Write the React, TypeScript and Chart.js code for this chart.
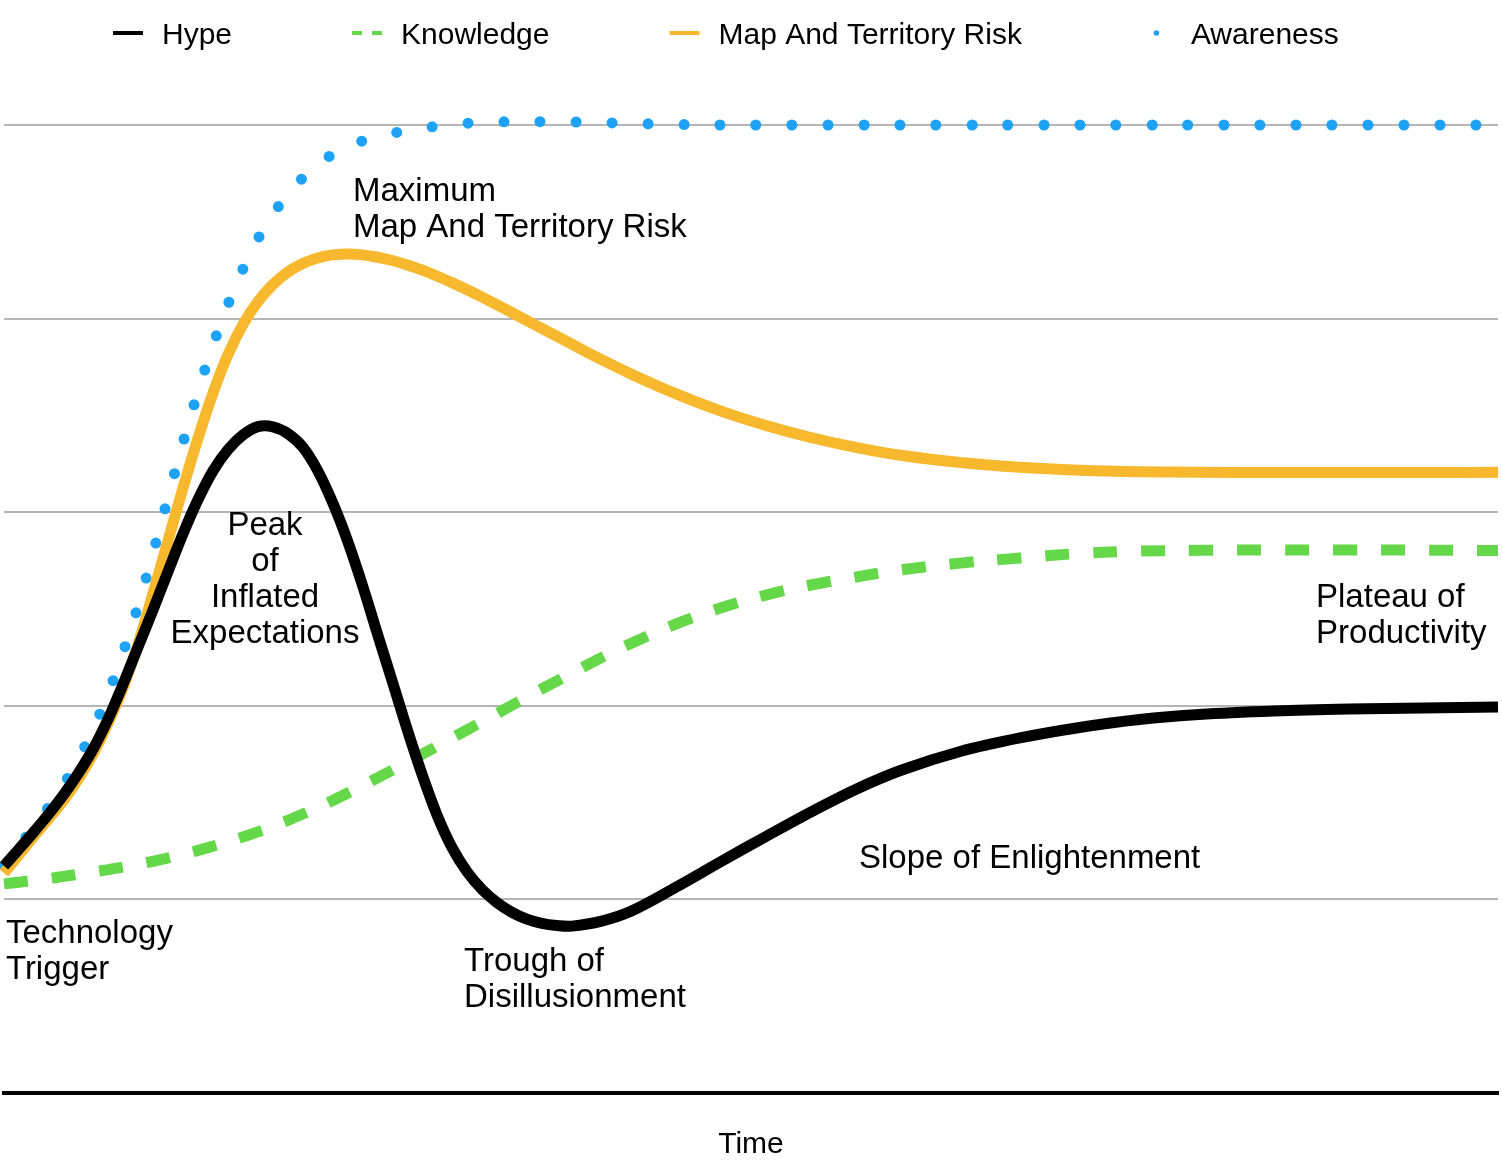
import React, { useEffect, useRef } from 'react';
import { Chart, registerables } from 'chart.js';

Chart.register(...registerables);

const FONT = "'Liberation Sans', Arial, Helvetica, sans-serif";

// Time axis (arbitrary units 0..100)
const times = [0, 1, 2, 3, 4, 5, 6, 7, 8, 9, 10, 11, 12, 13, 14, 15, 16, 17, 18, 19, 20, 21, 22, 23, 24, 25, 26, 27, 28, 29, 30, 31, 32, 33, 34, 35, 36, 37, 38, 40, 42, 45, 48, 51, 54, 57, 60, 64, 68, 72, 76, 80, 85, 90, 95, 100];

const hypeValues = [1.173, 1.260, 1.349, 1.442, 1.542, 1.654, 1.782, 1.937, 2.117, 2.309, 2.500, 2.698, 2.892, 3.067, 3.215, 3.324, 3.399, 3.442, 3.441, 3.406, 3.336, 3.214, 3.049, 2.851, 2.621, 2.370, 2.124, 1.875, 1.642, 1.433, 1.266, 1.142, 1.051, 0.983, 0.933, 0.898, 0.876, 0.865, 0.862, 0.888, 0.940, 1.064, 1.196, 1.325, 1.451, 1.568, 1.666, 1.764, 1.834, 1.888, 1.929, 1.955, 1.973, 1.983, 1.988, 1.994];

const knowledgeValues = [1.080, 1.089, 1.098, 1.108, 1.119, 1.130, 1.142, 1.154, 1.167, 1.182, 1.197, 1.214, 1.233, 1.253, 1.275, 1.298, 1.323, 1.349, 1.378, 1.408, 1.441, 1.475, 1.511, 1.549, 1.588, 1.628, 1.668, 1.709, 1.750, 1.792, 1.834, 1.876, 1.918, 1.960, 2.003, 2.045, 2.087, 2.128, 2.169, 2.249, 2.323, 2.423, 2.506, 2.572, 2.624, 2.665, 2.702, 2.737, 2.763, 2.787, 2.799, 2.803, 2.805, 2.805, 2.804, 2.802];

const riskValues = [1.136, 1.230, 1.326, 1.418, 1.512, 1.625, 1.757, 1.916, 2.100, 2.325, 2.588, 2.859, 3.130, 3.386, 3.618, 3.815, 3.970, 4.088, 4.176, 4.241, 4.285, 4.313, 4.329, 4.334, 4.329, 4.317, 4.300, 4.277, 4.250, 4.219, 4.185, 4.149, 4.111, 4.071, 4.031, 3.990, 3.949, 3.909, 3.868, 3.788, 3.713, 3.611, 3.522, 3.448, 3.386, 3.335, 3.294, 3.257, 3.232, 3.217, 3.209, 3.206, 3.205, 3.205, 3.205, 3.206];

const awarenessValues = [1.173, 1.274, 1.376, 1.479, 1.594, 1.728, 1.885, 2.069, 2.282, 2.523, 2.795, 3.081, 3.364, 3.626, 3.865, 4.074, 4.257, 4.412, 4.539, 4.642, 4.727, 4.797, 4.849, 4.890, 4.918, 4.940, 4.957, 4.972, 4.984, 4.994, 5.003, 5.009, 5.013, 5.016, 5.017, 5.017, 5.017, 5.017, 5.016, 5.012, 5.008, 5.003, 5.0, 5.0, 5.0, 5.0, 5.0, 5.0, 5.0, 5.0, 5.0, 5.0, 5.0, 5.0, 5.0, 5.0];

const seriesLabels = ['Hype', 'Knowledge', 'Map And Territory Risk', 'Awareness'];

// Phase annotations, anchored at (time, value) of the first line's baseline
const phaseLabels = [
  { lines: ['Maximum', 'Map And Territory Risk'], x: 23.36, y: 4.61, align: 'left' },
  { lines: ['Peak', 'of', 'Inflated', 'Expectations'], x: 17.47, y: 2.88, align: 'center' },
  { lines: ['Technology', 'Trigger'], x: 0.13, y: 0.775, align: 'left' },
  { lines: ['Trough of', 'Disillusionment'], x: 30.79, y: 0.63, align: 'left' },
  { lines: ['Slope of Enlightenment'], x: 57.23, y: 1.162, align: 'left' },
  { lines: ['Plateau of', 'Productivity'], x: 87.82, y: 2.51, align: 'left' },
];

const toPoints = (vals: number[]) => vals.map((v, i) => ({ x: times[i], y: v }));

const annotationPlugin = {
  id: 'phaseLabels',
  afterDraw(chart: any) {
    const { ctx, scales } = chart;
    ctx.save();
    ctx.font = `33px ${FONT}`;
    ctx.fillStyle = '#000';
    ctx.textBaseline = 'alphabetic';
    phaseLabels.forEach((a) => {
      ctx.textAlign = a.align;
      const px = scales.x.getPixelForValue(a.x);
      const py = scales.y.getPixelForValue(a.y);
      a.lines.forEach((line, i) => ctx.fillText(line, px, py + i * 36));
    });
    ctx.restore();
  },
};

const legendPlugin = {
  id: 'topLegend',
  afterDraw(chart: any) {
    const { ctx } = chart;
    ctx.save();
    ctx.font = `30px ${FONT}`;
    ctx.textBaseline = 'alphabetic';
    ctx.textAlign = 'left';
    const boxW = 29;
    const textOff = 49;
    const gap = 120;
    const y = 33;
    let x = 113;
    chart.data.datasets.forEach((ds: any) => {
      const dash = ds.borderDash || [];
      ctx.strokeStyle = ds.borderColor;
      ctx.fillStyle = ds.borderColor;
      if (dash.length && dash[0] === 0) {
        ctx.beginPath();
        ctx.arc(x + boxW / 2, y, 2.8, 0, Math.PI * 2);
        ctx.fill();
      } else {
        ctx.lineWidth = 4;
        ctx.lineCap = 'butt';
        ctx.setLineDash(dash.length ? [10, 10] : []);
        ctx.beginPath();
        ctx.moveTo(x, y);
        ctx.lineTo(x + boxW + 1, y);
        ctx.stroke();
        ctx.setLineDash([]);
      }
      ctx.fillStyle = '#000';
      ctx.fillText(ds.label, x + textOff, y + 11);
      x += textOff + ctx.measureText(ds.label).width + gap;
    });
    ctx.restore();
  },
};

export default function App() {
  const canvasRef = useRef<HTMLCanvasElement | null>(null);

  useEffect(() => {
    document.body.style.margin = '0';
    const canvas = canvasRef.current;
    if (!canvas) return;
    Chart.defaults.font.family = FONT;
    Chart.defaults.color = '#000';
    const common = {
      pointRadius: 0,
      pointHoverRadius: 0,
      fill: false,
      tension: 0.35,
      clip: false as const,
      borderWidth: 11,
    };
    const chart = new Chart(canvas, {
      type: 'line',
      data: {
        datasets: [
          { ...common, label: seriesLabels[0], data: toPoints(hypeValues), borderColor: '#000000' },
          { ...common, label: seriesLabels[1], data: toPoints(knowledgeValues), borderColor: '#64d848', borderDash: [24, 24] },
          { ...common, label: seriesLabels[2], data: toPoints(riskValues), borderColor: '#f7b82e' },
          { ...common, label: seriesLabels[3], data: toPoints(awarenessValues), borderColor: '#1ea2f8', borderDash: [0, 36], borderCapStyle: 'round' as const },
        ],
      },
      options: {
        animation: false,
        responsive: false,
        maintainAspectRatio: false,
        devicePixelRatio: 1,
        layout: { padding: { left: 4, right: 4, top: 125, bottom: 0 } },
        plugins: {
          legend: { display: false },
          tooltip: { enabled: false },
        },
        scales: {
          x: {
            type: 'linear',
            min: 0,
            max: 100,
            grid: { display: false, drawTicks: false },
            border: { display: true, color: '#000', width: 4 },
            ticks: { display: false },
            title: {
              display: true,
              text: 'Time',
              color: '#000',
              font: { size: 30, family: FONT },
              padding: { top: 34, bottom: -3 },
            },
          },
          y: {
            min: 0,
            max: 5,
            ticks: { display: false, stepSize: 1 },
            grid: {
              color: (c: any) => (c.tick && c.tick.value === 0 ? 'rgba(0,0,0,0)' : '#b5b5b5'),
              lineWidth: 2,
              drawTicks: false,
            },
            border: { display: false },
          },
        },
      },
      plugins: [annotationPlugin, legendPlugin],
    });
    return () => chart.destroy();
  }, []);

  return (
    <div style={{ width: 1502, height: 1160 }}>
      <canvas ref={canvasRef} width={1502} height={1160} style={{ display: 'block' }} />
    </div>
  );
}
